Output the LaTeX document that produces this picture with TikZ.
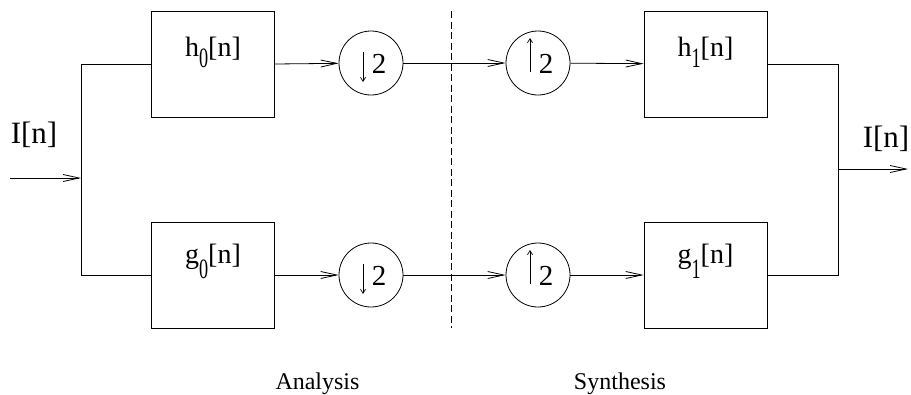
\documentclass[tikz,border=0pt]{standalone}
\usepackage{fontspec}
\setmainfont{Liberation Serif}
\usetikzlibrary{arrows.meta}
\tikzset{
  blk/.style={draw, line width=0.8pt, minimum width=123pt, minimum height=106pt, inner sep=0pt},
  rsmp/.style={draw, circle, line width=0.8pt, minimum size=64pt, inner sep=0pt},
  wire/.style={line width=0.8pt},
  sig/.style={line width=0.8pt, -{Straight Barb[length=16pt, width=7pt, line width=0.8pt]}},
  inarr/.style={line width=0.8pt, -{Straight Barb[length=4pt, width=5pt, line width=0.7pt]}},
  lbl/.style={anchor=base, inner sep=0pt, font=\fontsize{28}{28}\selectfont},
  two/.style={anchor=base, inner sep=0pt, font=\fontsize{29}{29}\selectfont},
  big/.style={anchor=base, inner sep=0pt, font=\fontsize{31}{31}\selectfont},
  captxt/.style={anchor=base, inner sep=0pt, font=\fontsize{24}{24}\selectfont}
}
\newcommand{\flt}[3]{#1\raisebox{-#3pt}{\scalebox{0.65}[1]{#2}}[n]}
\begin{document}
\begin{tikzpicture}[x=1pt,y=-1pt]
\useasboundingbox (0,0) rectangle (911,394);
% blocks
\node[blk] (h0) at (213,64) {};
\node[blk] (g0) at (213,275) {};
\node[blk] (h1) at (705.5,64) {};
\node[blk] (g1) at (705.5,275) {};
\node[lbl] (h0t) at ([yshift=8pt]h0.center) {\flt{h}{0}{11}};
\node[lbl] (g0t) at ([yshift=12pt]g0.center) {\flt{g}{0}{15}};
\node[lbl] (h1t) at ([yshift=8pt]h1.center) {\flt{h}{1}{11}};
\node[lbl] (g1t) at ([yshift=12pt]g1.center) {\flt{g}{1}{15}};
% resamplers
\node[rsmp] (d0) at (371,63) {};
\node[rsmp] (d1) at (371,275) {};
\node[rsmp] (u0) at (538,63) {};
\node[rsmp] (u1) at (538,275) {};
\foreach \c in {d0,d1,u0,u1}{
  \node[two] (\c two) at ([shift={(8,10)}]\c.center) {2};
}
\foreach \c in {d0,d1}{
  \draw[inarr] ([shift={(-8,-11)}]\c.center) coordinate (\c a) -- ([shift={(-8,19)}]\c.center) coordinate (\c b);
}
\foreach \c in {u0,u1}{
  \draw[inarr] ([shift={(-8,9)}]\c.center) coordinate (\c a) -- ([shift={(-8,-25)}]\c.center) coordinate (\c b);
}
% junctions and terminals
\coordinate (jl) at (81,178);
\coordinate (in) at (10,178);
\coordinate (jr) at (838,169);
\coordinate (out) at (908,169);
\draw[sig] (in) -- (jl);
\draw[wire] (h0.west) -- (h0.west -| jl) -- (g0.west -| jl) -- (g0.west);
\draw[wire] (h1.east) -- (h1.east -| jr) -- (g1.east -| jr) -- (g1.east);
\draw[sig] (jr) -- (out);
% chains
\draw[sig] (h0.east) -- (d0);
\draw[sig] (d0) -- (u0);
\draw[sig] (u0) -- (h1);
\draw[sig] (g0.east) -- (d1);
\draw[sig] (d1) -- (u1);
\draw[sig] (u1) -- (g1);
% dashed separator
\coordinate (dt) at (451,11);
\coordinate (db) at (451,328);
\draw[wire, dash pattern=on 7pt off 3.5pt] (dt) -- (db);
% labels
\node[big] (lin) at (34,143) {I[n]};
\node[big] (lout) at (886,147) {I[n]};
\node[captxt] (ana) at (317.5,389) {Analysis};
\node[captxt] (syn) at (620,389) {Synthesis};
\end{tikzpicture}
\end{document}
